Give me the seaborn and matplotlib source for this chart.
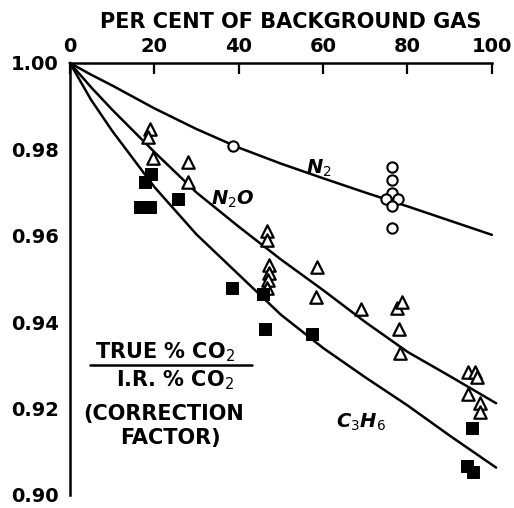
import matplotlib
matplotlib.use('Agg')
import matplotlib.pyplot as plt
import seaborn as sns
from matplotlib.lines import Line2D

# measured points
n2_x = [38.7, 76.4, 76.4, 76.4, 74.8, 77.8, 76.4, 76.4]
n2_y = [0.9808, 0.9759, 0.9729, 0.9700, 0.9685, 0.9685, 0.9669, 0.9618]

n2o_x = [18.9, 18.4, 19.6, 28.0, 28.1, 46.7, 46.7, 47.1, 47.1, 47.0, 46.8, 58.5, 58.3,
         68.9, 77.6, 78.8, 77.9, 78.3, 94.3, 96.0, 96.5, 94.3, 97.2, 97.2]
n2o_y = [0.9847, 0.9829, 0.9780, 0.9771, 0.9725, 0.9611, 0.9590, 0.9532, 0.9514, 0.9498,
         0.9480, 0.9528, 0.9458, 0.9430, 0.9433, 0.9447, 0.9384, 0.9329, 0.9285, 0.9285,
         0.9273, 0.9234, 0.9213, 0.9192]

c3h6_x = [19.1, 17.9, 16.7, 18.9, 25.7, 38.4, 45.7, 46.3, 57.3, 95.3, 94.1, 95.5]
c3h6_y = [0.9743, 0.9725, 0.9667, 0.9667, 0.9685, 0.9480, 0.9465, 0.9384, 0.9373,
          0.9155, 0.9067, 0.9053]

# fitted curves
n2_cx = [0, 5, 10, 20, 30, 40, 50, 60, 70, 80, 90, 100]
n2_cy = [1.000, 0.9973, 0.9948, 0.9895, 0.9847, 0.9804, 0.9767, 0.9733, 0.9700, 0.9668,
         0.9635, 0.9602]

n2o_cx = [0, 5, 10, 20, 30, 40, 50, 60, 70, 80, 90, 101]
n2o_cy = [1.000, 0.9944, 0.9892, 0.9794, 0.9700, 0.9621, 0.9545, 0.9474, 0.9400, 0.9331,
          0.9275, 0.9212]

c3h6_cx = [0, 5, 10, 20, 30, 40, 50, 60, 70, 80, 90, 101]
c3h6_cy = [1.000, 0.9915, 0.9843, 0.9713, 0.9603, 0.9510, 0.9417, 0.9340, 0.9272, 0.9207,
           0.9137, 0.9063]

x_ticks = [0, 20, 40, 60, 80, 100]
y_ticks = [0.90, 0.92, 0.94, 0.96, 0.98, 1.00]
y_labels = ['0.90', '0.92', '0.94', '0.96', '0.98', '1.00']

sns.set_style('white')
plt.rcParams['font.family'] = ['DejaVu Sans']
plt.rcParams['text.color'] = 'black'
plt.rcParams['xtick.color'] = 'black'
plt.rcParams['ytick.color'] = 'black'
plt.rcParams['axes.labelcolor'] = 'black'

fig = plt.figure(figsize=(5.14, 5.08), dpi=100)
ax = fig.add_axes([0.136, 0.026, 0.821, 0.850])

for cx, cy in [(n2_cx, n2_cy), (n2o_cx, n2o_cy), (c3h6_cx, c3h6_cy)]:
    sns.lineplot(x=cx, y=cy, ax=ax, color='black', linewidth=1.8, sort=False, clip_on=False)

sns.scatterplot(x=n2_x, y=n2_y, ax=ax, marker='o', s=55, facecolor='white',
                edgecolor='black', linewidth=1.5, zorder=3)
sns.scatterplot(x=n2o_x, y=n2o_y, ax=ax, marker='^', s=80, facecolor='white',
                edgecolor='black', linewidth=1.6, zorder=3)
sns.scatterplot(x=c3h6_x, y=c3h6_y, ax=ax, marker='s', s=75, color='black',
                edgecolor='black', zorder=3)

ax.set_xlim(0, 100)
ax.set_ylim(0.90, 1.00)
ax.xaxis.tick_top()
ax.xaxis.set_label_position('top')
ax.set_xticks(x_ticks)
ax.set_yticks(y_ticks)
ax.set_yticklabels(y_labels)
ax.tick_params(axis='both', direction='in', length=8, width=1.6, labelsize=14)
ax.tick_params(axis='x', pad=5)
ax.tick_params(axis='y', pad=8)
for lab in ax.get_xticklabels() + ax.get_yticklabels():
    lab.set_fontweight('bold')
ax.set_xlabel('PER CENT OF BACKGROUND GAS', fontsize=15, fontweight='bold')
ax.xaxis.set_label_coords(0.523, 1.08)

for side in ['right', 'bottom']:
    ax.spines[side].set_visible(False)
for side in ['top', 'left']:
    ax.spines[side].set_linewidth(1.8)
    ax.spines[side].set_color('black')

ax.text(59, 0.9755, 'N$_2$', fontsize=14, style='italic', fontweight='bold', ha='center', va='center')
ax.text(38.7, 0.9685, 'N$_2$O', fontsize=14, style='italic', fontweight='bold', ha='center', va='center')
ax.text(68.9, 0.9167, 'C$_3$H$_6$', fontsize=14, style='italic', fontweight='bold', ha='center', va='center')

ax.text(0.225, 0.331, 'TRUE % CO$_2$', fontsize=15, fontweight='bold', ha='center', va='center',
        transform=ax.transAxes)
ax.add_line(Line2D([0.047, 0.431], [0.301, 0.301], color='black', linewidth=1.8,
                   transform=ax.transAxes))
ax.text(0.25, 0.266, 'I.R. % CO$_2$', fontsize=15, fontweight='bold', ha='center', va='center',
        transform=ax.transAxes)
ax.text(0.222, 0.1875, '(CORRECTION', fontsize=15, fontweight='bold', ha='center', va='center',
        transform=ax.transAxes)
ax.text(0.238, 0.132, 'FACTOR)', fontsize=15, fontweight='bold', ha='center', va='center',
        transform=ax.transAxes)

fig.savefig('out.png', dpi=100)
